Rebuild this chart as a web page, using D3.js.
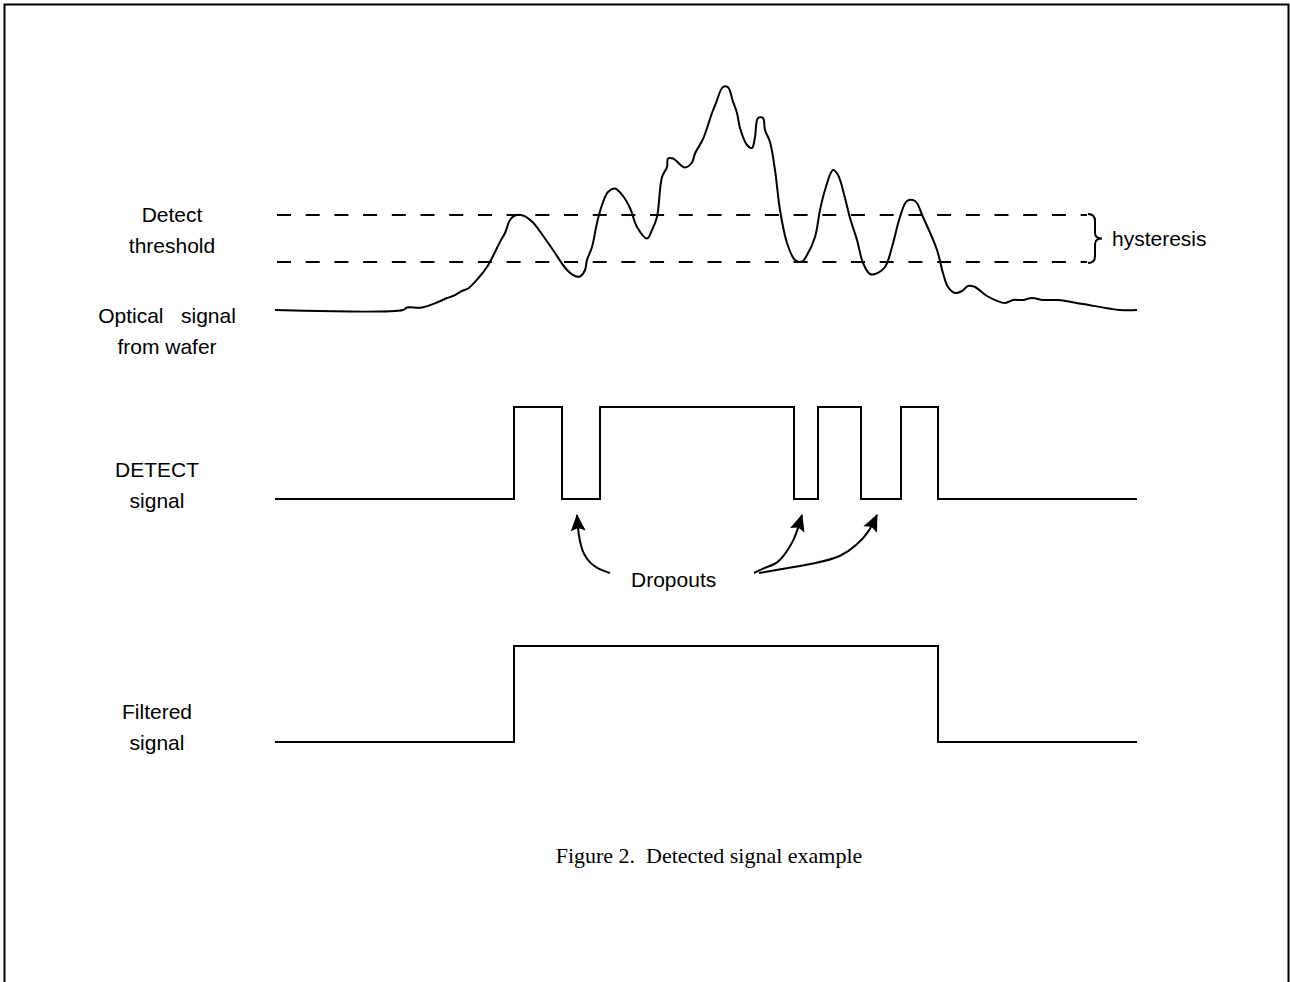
<!DOCTYPE html>
<html>
<head>
<meta charset="utf-8">
<script src="https://cdn.jsdelivr.net/npm/d3@7"></script>
<style>
  body { margin: 0; background: #fff; }
  text { font-family: "Liberation Sans", Arial, sans-serif; font-size: 21px; fill: #000; }
  .title { font-family: "Liberation Serif", "Times New Roman", serif; font-size: 22px; }
</style>
</head>
<body>
<svg id="chart"></svg>
<script>
// time axis (arbitrary units) and optical signal level
const opticalT = [0, 128, 132, 147, 162, 172, 178, 187, 193, 203, 212, 217, 225, 230, 235, 240, 248, 258, 265, 278,
  292, 300, 305, 310, 312, 317, 322, 327, 333, 340, 348, 355, 362, 372, 377, 382, 387, 392, 393, 398,
  410, 417, 420, 428, 437, 441, 448, 453, 458, 462, 465, 472, 477, 480, 483, 488, 490, 495, 500, 505,
  512, 520, 527, 532, 540, 545, 550, 558, 563, 570, 575, 582, 588, 595, 600, 610, 617, 625, 632, 640,
  648, 662, 668, 673, 680, 687, 693, 700, 712, 730, 738, 748, 757, 768, 783, 808, 845, 862];
const opticalV = [0, 0, 2.5, 2.5, 7.5, 12, 14, 19, 21.5, 31.5, 43, 52, 68, 77, 90, 94.5, 94.5, 87.5, 78.5, 60,
  40, 34, 33.5, 40, 50, 63, 87, 105, 118, 121.5, 114, 102, 83, 71.5, 80, 93, 133, 143, 151.5, 151.5,
  142.5, 147.5, 156.5, 171, 197, 207, 223, 222.7, 208.3, 197, 182, 165, 162, 173, 192, 192, 180, 168, 140, 100,
  67, 50, 48.5, 55, 73, 100, 120, 140, 135, 112, 92, 70, 47, 36, 36, 43, 63, 93, 109, 109,
  93, 60, 37, 23, 17, 19, 24, 23, 14, 7, 10, 10, 12, 10, 10, 6, 0, 0];
const opticalMax = 223;

// detect threshold (upper) and release threshold (lower)
const thresholds = [95, 48];

// DETECT signal: state changes
const detectT = [0, 239, 287, 325, 519, 543, 586, 626, 663, 862];
const detectS = [0, 1, 0, 1, 0, 1, 0, 1, 0, 0];

// Filtered signal: state changes
const filteredT = [0, 239, 663, 862];
const filteredS = [0, 1, 0, 0];

const labels = [
  ["Detect", "threshold"],
  ["Optical   signal", "from wafer"],
  ["DETECT", "signal"],
  ["Filtered", "signal"]
];
const titleText = "Figure 2.  Detected signal example";

const W = 1290, H = 982;
const svg = d3.select("#chart").attr("width", W).attr("height", H);

// frame (open at the bottom)
svg.append("path")
  .attr("d", `M4.5,${H} V4.5 H1288.5 V${H}`)
  .attr("fill", "none").attr("stroke", "#000").attr("stroke-width", 2);

const x = d3.scaleLinear().domain([0, 862]).range([275, 1137]);
const yOpt = d3.scaleLinear().domain([0, opticalMax]).range([310, 87]);
const yDet = d3.scaleLinear().domain([0, 1]).range([499, 407]);
const yFil = d3.scaleLinear().domain([0, 1]).range([742, 646]);

const optical = opticalT.map((t, i) => ({ t, v: opticalV[i] }));

// thresholds
svg.selectAll("line.thr")
  .data(thresholds)
  .enter().append("line")
  .attr("class", "thr")
  .attr("x1", x(2)).attr("x2", x(812))
  .attr("y1", d => yOpt(d)).attr("y2", d => yOpt(d))
  .attr("stroke", "#000").attr("stroke-width", 2.2)
  .attr("stroke-dasharray", "14,14.7");

svg.append("path")
  .datum(optical)
  .attr("d", d3.line().x(d => x(d.t)).y(d => yOpt(d.v)).curve(d3.curveCatmullRom.alpha(0.5)))
  .attr("fill", "none").attr("stroke", "#000").attr("stroke-width", 2);

const step = d3.line().curve(d3.curveStepAfter);
svg.append("path")
  .attr("d", step(detectT.map((t, i) => [x(t), yDet(detectS[i])])))
  .attr("fill", "none").attr("stroke", "#000").attr("stroke-width", 2);
svg.append("path")
  .attr("d", step(filteredT.map((t, i) => [x(t), yFil(filteredS[i])])))
  .attr("fill", "none").attr("stroke", "#000").attr("stroke-width", 2);

// hysteresis brace
const yA = yOpt(thresholds[0]), yB = yOpt(thresholds[1]), ym = (yA + yB) / 2;
svg.append("path")
  .attr("d", `M1088,${yA - 1} Q1095,${yA - 1} 1095,${yA + 6} V${ym - 6} Q1095,${ym} 1102,${ym}
              Q1095,${ym} 1095,${ym + 6} V${yB - 6} Q1095,${yB + 1} 1088,${yB + 1}`)
  .attr("fill", "none").attr("stroke", "#000").attr("stroke-width", 2);
svg.append("text").attr("x", 1112).attr("y", ym + 7).text("hysteresis");

// left labels
const labelPos = [[172, 222], [167, 323], [157, 477], [157, 719]];
labels.forEach((lines, i) => {
  const t = svg.append("text")
    .attr("text-anchor", "middle")
    .attr("x", labelPos[i][0]).attr("y", labelPos[i][1])
    .style("white-space", "pre");
  lines.forEach((s, j) => t.append("tspan")
    .attr("x", labelPos[i][0]).attr("dy", j ? 31 : 0).text(s));
});

// dropouts annotation
svg.append("defs").append("marker")
  .attr("id", "head").attr("markerUnits", "userSpaceOnUse")
  .attr("viewBox", "-18 -9 20 18").attr("refX", 0).attr("refY", 0)
  .attr("markerWidth", 20).attr("markerHeight", 18).attr("orient", "auto")
  .append("path").attr("d", "M1,0 L-16,-7.5 L-13,0 L-16,7.5 Z").attr("fill", "#000");

// a dropout is a low gap between two high pulses
const dropouts = [];
for (let i = 1; i < detectT.length - 1; i++) {
  if (detectS[i] === 0 && detectS[i - 1] === 1 && detectS[i + 1] === 1) dropouts.push([detectT[i], detectT[i + 1]]);
}
const tips = dropouts.map(d => [x((d[0] + d[1]) / 2) - 4, yDet(0) + 16]);
// curve shapes as offsets from each tip
const arrowShapes = [
  [[33, 58], [21, 54], [13, 48], [7, 40], [4, 31], [1.5, 20], [0, 0]],
  [[-48, 58], [-36, 52], [-25, 49], [-16, 38], [-8, 25], [-4, 13], [0, 0]],
  [[-118, 58], [-100, 55], [-60, 48], [-36, 42], [-20, 30], [-8, 17], [0, 0]]
];
const curve = d3.line().curve(d3.curveBasis);
tips.forEach((tp, i) => {
  svg.append("path")
    .attr("d", curve(arrowShapes[i].map(p => [tp[0] + p[0], tp[1] + p[1]])))
    .attr("fill", "none").attr("stroke", "#000").attr("stroke-width", 2)
    .attr("marker-end", "url(#head)");
});
svg.append("text").attr("x", 631).attr("y", 587).text("Dropouts");

svg.append("text").attr("class", "title")
  .attr("text-anchor", "middle").attr("x", 709).attr("y", 863)
  .style("white-space", "pre").text(titleText);
</script>
</body>
</html>
